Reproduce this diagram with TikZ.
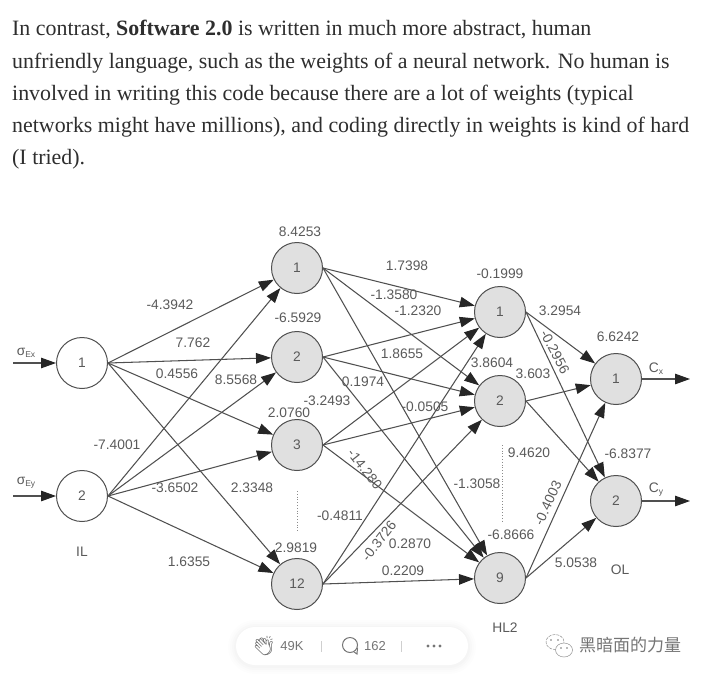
\documentclass[tikz,border=0pt]{standalone}
\usepackage{fontspec}
\setmainfont{Liberation Serif}
\setsansfont{Liberation Sans}
\newfontfamily\cjkfont{Noto Sans CJK SC}
\newfontfamily\emojifont{Noto Emoji}
\usetikzlibrary{arrows.meta}
\definecolor{edgegray}{HTML}{505050}
\definecolor{labelgray}{HTML}{5A5A5A}
\definecolor{bodyink}{HTML}{2E2E2E}
\definecolor{hiddenfill}{HTML}{E0E0E0}
\definecolor{barink}{HTML}{757575}
\tikzset{
  input/.style={circle,draw=edgegray,line width=1pt,fill=white,minimum size=51pt,inner sep=0pt,font=\sffamily\fontsize{13.8}{13.8}\selectfont,text=labelgray},
  hidden/.style={input,fill=hiddenfill},
  conn/.style={draw=edgegray,line width=1.05pt,-{Triangle[length=15pt,width=10.5pt,color=black!85]}},
  wt/.style={font=\sffamily\fontsize{13.8}{13.8}\selectfont,text=labelgray,inner sep=0pt},
  body/.style={anchor=base west,inner sep=0pt,font=\fontsize{21.9}{21.9}\selectfont,text=bodyink},
  bar/.style={font=\sffamily\fontsize{13}{13}\selectfont,text=barink,inner sep=0pt},
  dots/.style={draw=labelgray!70,line width=0.8pt,dotted}
}
\newcommand{\subtxt}[1]{\raisebox{-2pt}{\fontsize{8.5}{8.5}\selectfont #1}}
\begin{document}
\begin{tikzpicture}[x=1pt,y=-1pt]
\path[use as bounding box,fill=white] (0,0) rectangle (703,677);
% body text
\node[body] (t1) at (12,36) {In contrast, \textbf{Software 2.0} is written in much more abstract, human};
\node[body] (t2) at (12,68) {unfriendly language, such as the weights of a neural network. No human is};
\node[body] (t3) at (12,100) {involved in writing this code because there are a lot of weights (typical};
\node[body] (t4) at (12,132) {networks might have millions), and coding directly in weights is kind of hard};
\node[body] (t5) at (12,164) {(I tried).};
% nodes
\node[input] (i1) at (82,363) {1};
\node[input] (i2) at (82,496) {2};
\node[hidden] (a1) at (297,268) {1};
\node[hidden] (a2) at (297,357) {2};
\node[hidden] (a3) at (297,445) {3};
\node[hidden] (a12) at (297,584) {12};
\node[hidden] (b1) at (500,312) {1};
\node[hidden] (b2) at (500,401) {2};
\node[hidden] (b9) at (500,578) {9};
\node[hidden] (c1) at (616,379) {1};
\node[hidden] (c2) at (616,501) {2};
\coordinate (in1) at (13,363);
\coordinate (in2) at (13,496);
\coordinate (out1) at (690,379);
\coordinate (out2) at (690,501);
% connectors
\draw[conn] (in1) -- (i1);
\draw[conn] (in2) -- (i2);
\foreach \s in {i1,i2}\foreach \t in {a1,a2,a3,a12}{\draw[conn] (\s.east) -- (\t);}
\foreach \s in {a1,a2,a3,a12}\foreach \t in {b1,b2,b9}{\draw[conn] (\s.east) -- (\t);}
\foreach \s in {b1,b2,b9}\foreach \t in {c1,c2}{\draw[conn] (\s.east) -- (\t);}
\draw[conn] (c1) -- (out1);
\draw[conn] (c2) -- (out2);
% dotted ellipses
\coordinate (d1a) at (297,491); \coordinate (d1b) at (297,531);
\coordinate (d2a) at (502,445); \coordinate (d2b) at (502,523);
\draw[dots] (d1a) -- (d1b);
\draw[dots] (d2a) -- (d2b);
% weight labels
\node[wt] (l01) at (300,232) {8.4253};
\node[wt] (l02) at (298,318) {-6.5929};
\node[wt] (l03) at (170,305) {-4.3942};
\node[wt] (l04) at (193,343) {7.762};
\node[wt] (l05) at (177,374) {0.4556};
\node[wt] (l06) at (236,380) {8.5568};
\node[wt] (l07) at (289,413) {2.0760};
\node[wt] (l08) at (327,401) {-3.2493};
\node[wt] (l09) at (363,382) {0.1974};
\node[wt] (l10) at (407,266) {1.7398};
\node[wt] (l11) at (394,295) {-1.3580};
\node[wt] (l12) at (418,311) {-1.2320};
\node[wt] (l13) at (402,354) {1.8655};
\node[wt] (l14) at (492,363) {3.8604};
\node[wt] (l15) at (533,374) {3.603};
\node[wt] (l16) at (425,407) {-0.0505};
\node[wt] (l17) at (500,274) {-0.1999};
\node[wt] (l18) at (560,311) {3.2954};
\node[wt,rotate=-62] (l19) at (555,352) {-0.2956};
\node[wt] (l20) at (618,337) {6.6242};
\node[wt] (l21) at (117,445) {-7.4001};
\node[wt] (l22) at (175,488) {-3.6502};
\node[wt] (l23) at (252,488) {2.3348};
\node[wt] (l24) at (296,548) {2.9819};
\node[wt] (l25) at (340,516) {-0.4811};
\node[wt] (l26) at (189,562) {1.6355};
\node[wt,rotate=-52] (l27) at (365,469) {-14.280};
\node[wt,rotate=52] (l28) at (379,541) {-0.3726};
\node[wt] (l29) at (410,544) {0.2870};
\node[wt] (l30) at (403,571) {0.2209};
\node[wt] (l31) at (477,484) {-1.3058};
\node[wt] (l32) at (529,453) {9.4620};
\node[wt] (l33) at (511,535) {-6.8666};
\node[wt,rotate=65] (l34) at (548,503) {-0.4003};
\node[wt] (l35) at (576,563) {5.0538};
\node[wt] (l36) at (628,454) {-6.8377};
\node[wt] (il) at (82,552) {IL};
\node[wt] (ol) at (620,570) {OL};
\node[wt] (hl) at (505,628) {HL2};
\node[wt] (sx) at (26,353) {σ\subtxt{Ex}};
\node[wt] (sy) at (26,483) {σ\subtxt{Ey}};
\node[wt] (cx) at (656,369) {C\subtxt{x}};
\node[wt] (cy) at (656,490) {C\subtxt{y}};
% toolbar
\foreach \g/\o in {8/0.006,6/0.008,4/0.01,2/0.012}{
  \fill[black,opacity=\o,rounded corners=19+\g] (236-\g,627-\g+1) rectangle (468+\g,665+\g+1);
}
\fill[white,rounded corners=19] (236,627) rectangle (468,665);
\node[bar,font=\emojifont\fontsize{19}{19}\selectfont] (clap) at (264,646) {👏};
\node[bar] (n49) at (292,646) {49K};
\draw[barink!35,line width=0.6pt] (321,641) -- (321,652);
\node[circle,draw=barink,line width=1pt,minimum size=15pt,inner sep=0pt] (bubble) at (350,645) {};
\coordinate (tail) at (357,654);
\draw[barink,line width=1pt] (bubble.-60) -- (tail) -- (bubble.-20);
\node[bar] (n162) at (375,646) {162};
\draw[barink!35,line width=0.6pt] (401,641) -- (401,652);
\foreach \px in {428,434,440}{\fill[barink] (\px,646) circle (1.7);}
% watermark
\draw[barink!80,line width=0.5pt,dash pattern=on 3pt off 1pt,fill=white] (555,642) ellipse (9 and 7.5);
\draw[barink!80,line width=0.5pt,fill=white] (564,650) ellipse (8.5 and 7);
\fill[barink] (551,640) circle (0.9) (558,640) circle (0.9) (561,648) circle (0.9) (567,648) circle (0.9);
\node[inner sep=0pt,text=barink,font=\cjkfont\fontsize{17}{17}\selectfont] (wm) at (630,645) {黑暗面的力量};
\end{tikzpicture}
\end{document}
